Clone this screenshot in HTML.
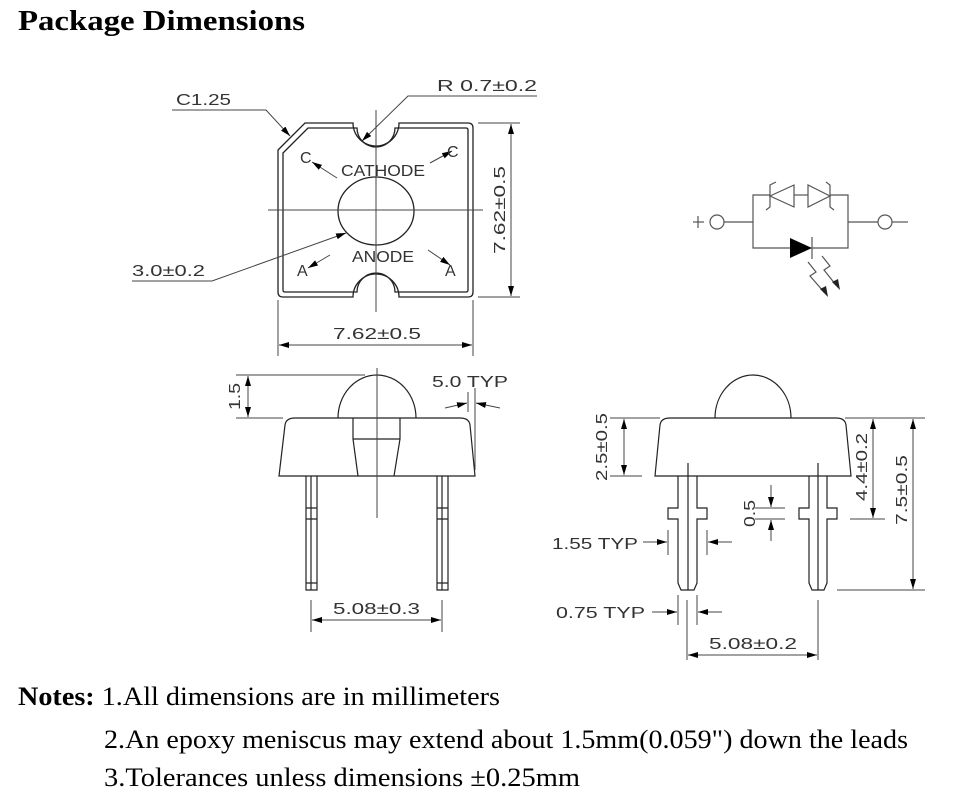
<!DOCTYPE html>
<html><head><meta charset="utf-8"><style>
html,body{margin:0;padding:0;background:#fff;width:958px;height:812px;overflow:hidden}
svg{display:block}
.t{font-family:"Liberation Sans",sans-serif;font-size:16px;fill:#333}
.s{font-family:"Liberation Serif",serif;fill:#000}
</style></head><body>
<svg width="958" height="812" viewBox="0 0 958 812" xmlns="http://www.w3.org/2000/svg">
<defs>
<marker id="a" viewBox="0 0 10 6" refX="10" refY="3" markerWidth="10" markerHeight="6" markerUnits="userSpaceOnUse" orient="auto-start-reverse"><path d="M0,0L10,3L0,6z" fill="#000"/></marker>
</defs>
<text class="s" x="18" y="30" font-size="28" font-weight="bold" textLength="287" lengthAdjust="spacingAndGlyphs">Package Dimensions</text>

<g fill="none" stroke="#222" stroke-width="1.3">
<path d="M278,150 L305,123 H353 A23,23 0 0 0 399,123 H468 Q473,123 473,128 V292 Q473,297 468,297 H399 A23,23 0 0 0 353,297 H283 Q278,297 278,292 Z"/>
<path d="M283,153 L308,128 H357 A19,19 0 0 0 395,128 H466 Q468,128 468,130 V290 Q468,292 466,292 H395 A19,19 0 0 0 357,292 H285 Q283,292 283,290 Z"/>
<ellipse cx="376" cy="211" rx="38" ry="34"/>
</g>
<g stroke="#444" stroke-width="1" fill="none">
<line x1="268" y1="210" x2="483" y2="210"/>
<line x1="376" y1="110" x2="376" y2="312"/>
<polyline points="172,110 266,110 290,136" marker-end="url(#a)"/>
<polyline points="537,96 408,96 362,141" marker-end="url(#a)"/>
<polyline points="132,281 212,281 346,233" marker-end="url(#a)"/>
<line x1="337" y1="178" x2="312" y2="162" marker-end="url(#a)"/>
<line x1="430" y1="163" x2="452" y2="151" marker-end="url(#a)"/>
<line x1="330" y1="255" x2="308" y2="268" marker-end="url(#a)"/>
<line x1="428" y1="250" x2="450" y2="265" marker-end="url(#a)"/>
<line x1="478" y1="123" x2="520" y2="123"/><line x1="478" y1="297" x2="520" y2="297"/>
<line x1="511" y1="124" x2="511" y2="296" marker-start="url(#a)" marker-end="url(#a)"/>
<line x1="278" y1="300" x2="278" y2="356"/><line x1="473" y1="300" x2="473" y2="356"/>
<line x1="279" y1="345" x2="472" y2="345" marker-start="url(#a)" marker-end="url(#a)"/>
</g>
<text class="t" x="176" y="105" textLength="55" lengthAdjust="spacingAndGlyphs">C1.25</text>
<text class="t" x="437" y="91" textLength="100" lengthAdjust="spacingAndGlyphs">R 0.7±0.2</text>
<text class="t" x="132" y="276" textLength="73" lengthAdjust="spacingAndGlyphs">3.0±0.2</text>
<text class="t" x="341" y="176" textLength="84" lengthAdjust="spacingAndGlyphs">CATHODE</text>
<text class="t" x="352" y="262" textLength="62" lengthAdjust="spacingAndGlyphs">ANODE</text>
<text class="t" x="300" y="163">C</text>
<text class="t" x="447" y="157">C</text>
<text class="t" x="297" y="276">A</text>
<text class="t" x="445" y="276">A</text>
<text class="t" x="333" y="339" textLength="88" lengthAdjust="spacingAndGlyphs">7.62±0.5</text>
<text class="t" transform="translate(505,254) rotate(-90)" textLength="88" lengthAdjust="spacingAndGlyphs">7.62±0.5</text>

<g fill="none" stroke="#222" stroke-width="1.2">
<path d="M338,418 A39,43 0 0 1 416,418"/>
<path d="M279,476 L285,425 Q286,418 295,418 H460 Q469,418 470,425 L475,476 Z"/>
<path d="M353,418 V439 L358,476 M400,418 V439 L394,476 M353,439 H400"/>
<path d="M306,476 V590 H317 V476 M311,476 V590 M306,508 H317 M306,519 H317 M306,583 H317"/>
<path d="M437,476 V590 H448 V476 M442,476 V590 M437,508 H448 M437,519 H448 M437,583 H448"/>
</g>
<g stroke="#444" stroke-width="1" fill="none">
<line x1="377" y1="368" x2="377" y2="518"/>
<line x1="236" y1="375" x2="365" y2="375"/><line x1="236" y1="418" x2="283" y2="418"/>
<line x1="248" y1="376" x2="248" y2="417" marker-start="url(#a)" marker-end="url(#a)"/>
<line x1="475" y1="388" x2="475" y2="470"/><line x1="468" y1="392" x2="468" y2="412"/>
<line x1="445" y1="408" x2="467" y2="403" marker-end="url(#a)"/>
<line x1="500" y1="408" x2="476" y2="403" marker-end="url(#a)"/>
<line x1="311" y1="600" x2="311" y2="632"/><line x1="442" y1="600" x2="442" y2="632"/>
<line x1="312" y1="620" x2="441" y2="620" marker-start="url(#a)" marker-end="url(#a)"/>
</g>
<text class="t" transform="translate(240,410) rotate(-90)" textLength="27" lengthAdjust="spacingAndGlyphs">1.5</text>
<text class="t" x="432" y="387" textLength="76" lengthAdjust="spacingAndGlyphs">5.0 TYP</text>
<text class="t" x="333" y="614" textLength="87" lengthAdjust="spacingAndGlyphs">5.08±0.3</text>

<g fill="none" stroke="#222" stroke-width="1.2">
<path d="M715,418 A38,43 0 0 1 791,418"/>
<path d="M655,476 L660,425 Q661,418 670,418 H836 Q845,418 846,425 L851,476 Z"/>
<path d="M678,476 V508 H668 V519 H678 V583 L681,590 H694 L697,583 V519 H707 V508 H697 V476 M688,463 V590"/>
<path d="M809,476 V508 H799 V519 H809 V583 L812,590 H824 L827,583 V519 H837 V508 H827 V476 M818,463 V590"/>
</g>
<g stroke="#444" stroke-width="1" fill="none">
<line x1="610" y1="418" x2="660" y2="418"/><line x1="610" y1="476" x2="642" y2="476"/>
<line x1="624" y1="419" x2="624" y2="475" marker-start="url(#a)" marker-end="url(#a)"/>
<line x1="845" y1="418" x2="925" y2="418"/><line x1="850" y1="519" x2="885" y2="519"/><line x1="837" y1="590" x2="925" y2="590"/>
<line x1="873" y1="419" x2="873" y2="518" marker-start="url(#a)" marker-end="url(#a)"/>
<line x1="913" y1="419" x2="913" y2="589" marker-start="url(#a)" marker-end="url(#a)"/>
<line x1="755" y1="508" x2="785" y2="508"/><line x1="755" y1="519" x2="785" y2="519"/>
<line x1="771" y1="485" x2="771" y2="507" marker-end="url(#a)"/>
<line x1="771" y1="541" x2="771" y2="520" marker-end="url(#a)"/>
<line x1="668" y1="530" x2="668" y2="555"/><line x1="707" y1="530" x2="707" y2="555"/>
<line x1="643" y1="542" x2="667" y2="542" marker-end="url(#a)"/>
<line x1="732" y1="542" x2="708" y2="542" marker-end="url(#a)"/>
<line x1="678" y1="595" x2="678" y2="625"/><line x1="697" y1="595" x2="697" y2="625"/>
<line x1="652" y1="612" x2="677" y2="612" marker-end="url(#a)"/>
<line x1="722" y1="612" x2="698" y2="612" marker-end="url(#a)"/>
<line x1="687" y1="600" x2="687" y2="660"/><line x1="818" y1="600" x2="818" y2="660"/>
<line x1="688" y1="655" x2="817" y2="655" marker-start="url(#a)" marker-end="url(#a)"/>
</g>
<text class="t" transform="translate(607,481) rotate(-90)" textLength="68" lengthAdjust="spacingAndGlyphs">2.5±0.5</text>
<text class="t" transform="translate(867,501) rotate(-90)" textLength="68" lengthAdjust="spacingAndGlyphs">4.4±0.2</text>
<text class="t" transform="translate(907,525) rotate(-90)" textLength="70" lengthAdjust="spacingAndGlyphs">7.5±0.5</text>
<text class="t" transform="translate(755,527) rotate(-90)" textLength="27" lengthAdjust="spacingAndGlyphs">0.5</text>
<text class="t" x="552" y="549" textLength="86" lengthAdjust="spacingAndGlyphs">1.55 TYP</text>
<text class="t" x="556" y="618" textLength="89" lengthAdjust="spacingAndGlyphs">0.75 TYP</text>
<text class="t" x="709" y="649" textLength="88" lengthAdjust="spacingAndGlyphs">5.08±0.2</text>

<g stroke="#555" stroke-width="1.2" fill="none">
<circle cx="717" cy="222" r="7"/><circle cx="885" cy="222" r="7"/>
<line x1="693" y1="222" x2="704" y2="222"/><line x1="698" y1="216" x2="698" y2="228"/>
<line x1="724" y1="222" x2="753" y2="222"/><line x1="848" y1="222" x2="878" y2="222"/>
<line x1="892" y1="222" x2="908" y2="222"/>
<polyline points="770,195 753,195 753,248 790,248"/>
<polyline points="830,195 848,195 848,248 812,248"/>
<line x1="794" y1="195" x2="808" y2="195"/>
<path d="M770,196 L794,185 L794,207 Z"/>
<path d="M776,182 L770,185 V207 L766,210"/>
<path d="M830,196 L808,185 L808,207 Z"/>
<path d="M826,182 L830,185 V207 L834,210"/>
<line x1="812" y1="237" x2="812" y2="259"/>
<polyline points="808,262 816,272 810,276 824,292"/>
<polyline points="822,256 830,266 824,270 836,285"/>
</g>
<path d="M790,238 L812,248 L790,258 Z" fill="#000"/>
<path d="M828,297 L820,289 L826,286 Z M840,290 L832,282 L838,279 Z" fill="#222"/>

<text class="s" x="18" y="705" font-size="26" textLength="482" lengthAdjust="spacingAndGlyphs"><tspan font-weight="bold">Notes:</tspan> 1.All dimensions are in millimeters</text>
<text class="s" x="104" y="748" font-size="26" textLength="804" lengthAdjust="spacingAndGlyphs">2.An epoxy meniscus may extend about 1.5mm(0.059") down the leads</text>
<text class="s" x="104" y="786" font-size="26" textLength="476" lengthAdjust="spacingAndGlyphs">3.Tolerances unless dimensions  ±0.25mm</text>
</svg>
</body></html>
